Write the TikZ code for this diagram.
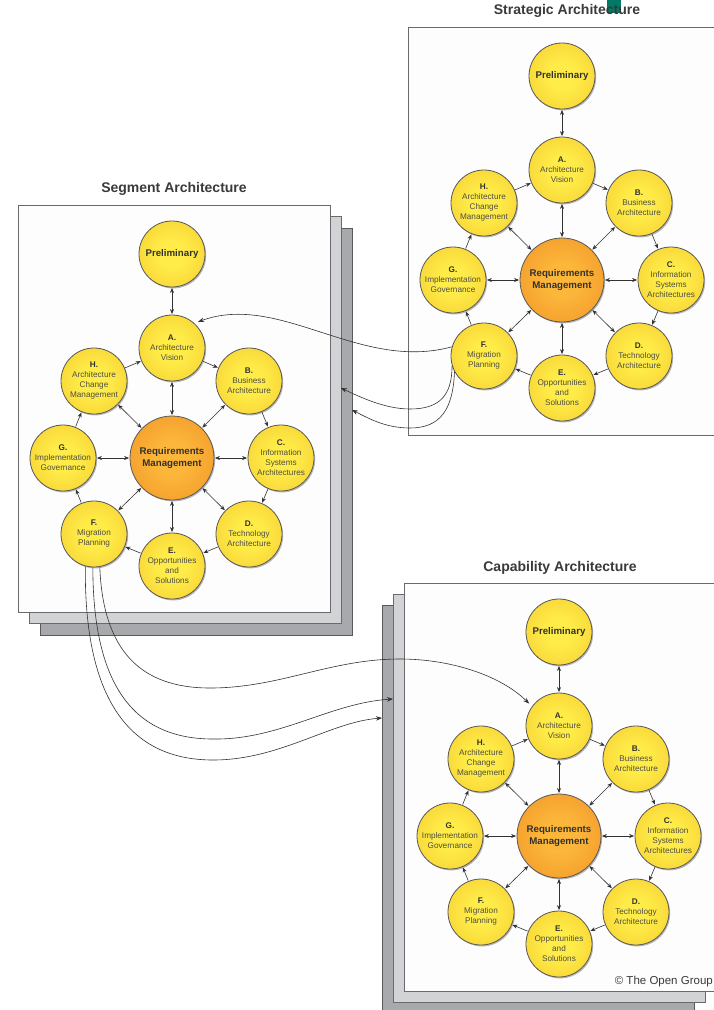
\documentclass[tikz,border=0pt]{standalone}
\usepackage{fontspec}
\setmainfont{Liberation Sans}
\usetikzlibrary{arrows.meta,shadows}
\definecolor{yin}{RGB}{255,236,72}
\definecolor{yout}{RGB}{240,190,36}
\definecolor{oin}{RGB}{252,182,58}
\definecolor{oout}{RGB}{234,132,30}
\definecolor{rimcol}{RGB}{88,88,88}
\definecolor{arrcol}{RGB}{50,50,50}
\definecolor{titlecol}{RGB}{58,58,58}
\definecolor{lettercol}{RGB}{50,50,45}
\definecolor{desccol}{RGB}{78,78,68}
\definecolor{sheetA}{RGB}{253,253,253}
\definecolor{sheetB}{RGB}{209,211,212}
\definecolor{sheetC}{RGB}{167,169,172}
\definecolor{sheetline}{RGB}{105,106,110}
\definecolor{sheetlinedark}{RGB}{88,89,91}
\definecolor{tealmark}{RGB}{0,122,102}
\pgfdeclareradialshading{yball}{\pgfpoint{0bp}{0bp}}{color(0bp)=(yin); color(10bp)=(yin); color(50bp)=(yout)}
\pgfdeclareradialshading{oball}{\pgfpoint{0bp}{0bp}}{color(0bp)=(oin); color(10bp)=(oin); color(50bp)=(oout)}
\newcommand\phl[1]{\textcolor{lettercol}{\bfseries #1}}
\tikzset{
  sheetfront/.style={fill=sheetA, draw=sheetline, line width=0.9pt},
  sheetmid/.style={fill=sheetB, draw=sheetline, line width=0.9pt},
  sheetback/.style={fill=sheetC, draw=sheetlinedark, line width=0.9pt},
  ball/.style={circle, inner sep=0pt, draw=rimcol, line width=0.8pt, align=center,
    drop shadow={shadow xshift=1.2pt, shadow yshift=-1.4pt, opacity=0.28, fill=black}},
  phase/.style={ball, minimum size=66pt, shading=yball, text=desccol, font=\fontsize{8.2}{10}\selectfont},
  prelim/.style={ball, minimum size=66pt, shading=yball, text=lettercol, font=\fontsize{9.7}{12}\selectfont\bfseries},
  reqnode/.style={ball, minimum size=84pt, shading=oball, text=lettercol, font=\fontsize{9.7}{12}\selectfont\bfseries},
  cyc/.style={draw=arrcol, line width=0.6pt, -{Stealth[length=5pt,width=4pt]}, shorten >=0.5pt, shorten <=0.5pt},
  spoke/.style={draw=arrcol, line width=0.6pt, {Stealth[length=5pt,width=4pt]}-{Stealth[length=5pt,width=4pt]}, shorten >=0.5pt, shorten <=0.5pt},
  conn/.style={draw=arrcol, line width=0.6pt, -{Stealth[length=6pt,width=4.5pt]}},
  paneltitle/.style={font=\fontsize{14}{16}\selectfont\bfseries, text=titlecol, inner sep=0pt},
}
\newcommand\admpanel[3]{%
  \begin{scope}[shift={(#2,#3)}]
    \node[prelim] (#1P) at (0,-204) {Preliminary};
    \node[phase] (#1A) at (0,-110) {\phl{A.}\\Architecture\\Vision};
    \node[phase] (#1B) at (77,-77) {\phl{B.}\\Business\\Architecture};
    \node[phase] (#1C) at (109,0) {\phl{C.}\\Information\\Systems\\Architectures};
    \node[phase] (#1D) at (77,76) {\phl{D.}\\Technology\\Architecture};
    \node[phase] (#1E) at (0,108) {\phl{E.}\\Opportunities\\and\\Solutions};
    \node[phase] (#1F) at (-78,76) {\phl{F.}\\Migration\\Planning};
    \node[phase] (#1G) at (-109,0) {\phl{G.}\\Implementation\\Governance};
    \node[phase] (#1H) at (-78,-77) {\phl{H.}\\Architecture\\Change\\Management};
    \node[reqnode] (#1R) at (0,0) {Requirements\\Management};
    \draw[spoke] (#1P) -- (#1A);
    \foreach \n in {A,B,C,D,E,F,G,H} {\draw[spoke] (#1R) -- (#1\n);}
    \foreach \a/\b in {A/B,B/C,C/D,D/E,E/F,F/G,G/H,H/A} {\draw[cyc] (#1\a) -- (#1\b);}
  \end{scope}}
\begin{document}
\begin{tikzpicture}[x=1pt,y=-1pt]
\useasboundingbox (0,0) rectangle (714,1010);
\clip (0,0) rectangle (714,1010);
\fill[white] (0,0) rectangle (714,1010);

% sheets
\draw[sheetback] (40,228) rectangle (352,635);
\draw[sheetmid] (29,216) rectangle (341,623);
\draw[sheetfront] (18,205) rectangle (330,612);

\draw[sheetback] (382,605) rectangle (694,1013);
\draw[sheetmid] (393,594) rectangle (705,1002);
\draw[sheetfront] (404,583) rectangle (716,991);

\draw[sheetfront] (408,27) rectangle (720,435);

% titles
\fill[tealmark] (607,0) rectangle (621,13);
\node[paneltitle] (tst) at (567,11) {Strategic Architecture};
\node[paneltitle] (tsg) at (174,189) {Segment Architecture};
\node[paneltitle] (tcp) at (560,568) {Capability Architecture};

% panels
\admpanel{st}{562}{280}
\admpanel{sg}{172}{458}
\admpanel{cp}{559}{836}

% connectors between panels
\coordinate (sg2) at (341,388);
\coordinate (sg3) at (352,410);
\coordinate (cp2) at (393,699);
\coordinate (cp3) at (382,718);

\draw[conn, shorten >=4pt] (stF.164) .. controls (360,372) and (280,292) .. (sgA.48);
\draw[conn] (stF.197) .. controls (452,395) and (440,409) .. (410,409) .. controls (385,409) and (360,397) .. (sg2);
\draw[conn] (stF.208) .. controls (453,410) and (440,428) .. (410,428) .. controls (385,428) and (368,418) .. (sg3);

\draw[conn, shorten >=4pt] (sgF.280) .. controls (103,650) and (140,688) .. (210,688) .. controls (280,688) and (330,659) .. (400,659) .. controls (450,659) and (500,675) .. (cpA.144);
\draw[conn] (sgF.268) .. controls (93,680) and (130,739) .. (213,739) .. controls (280,740) and (330,703) .. (cp2);
\draw[conn] (sgF.255) .. controls (84,700) and (130,760) .. (213,760) .. controls (280,760) and (330,722) .. (cp3);

\node[anchor=east, font=\fontsize{11.5}{13}\selectfont, text=titlecol, inner sep=0pt] (copy) at (713,982) {© The Open Group};
\end{tikzpicture}
\end{document}
